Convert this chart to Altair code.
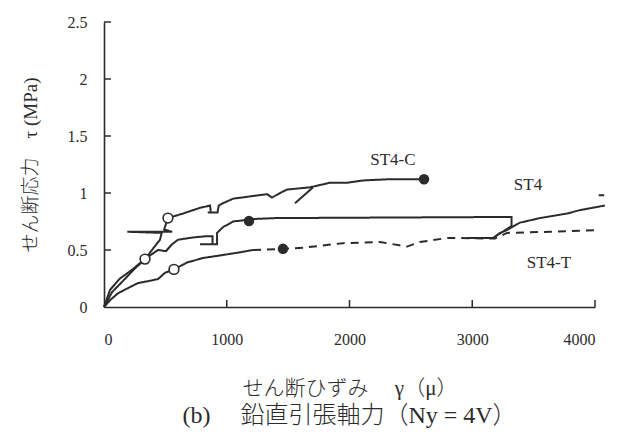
import altair as alt
import pandas as pd

# ---- data ----
# ST4-C (upper solid curve)
stc_x = [0, 49, 130, 220, 334, 391, 456, 470, 190, 555, 490, 521, 644, 782, 864, 870, 845, 925, 935, 969,
         1051, 1189, 1328, 1369, 1434, 1491, 1678, 1760, 1841, 1980, 2110, 2306, 2574, 2607]
stc_y = [0, 0.15, 0.25, 0.32, 0.42, 0.50, 0.59, 0.65, 0.66, 0.66, 0.68, 0.78, 0.82, 0.87, 0.89, 0.83, 0.83, 0.83, 0.89, 0.91,
         0.95, 0.97, 0.99, 0.96, 1.00, 1.03, 1.05, 1.07, 1.09, 1.09, 1.11, 1.12, 1.12, 1.12]
# ST4 (middle solid curve)
st4_x = [0, 65, 147, 253, 358, 440, 505, 554, 603, 725, 823, 884, 884, 782, 921, 921, 969, 1051, 1132, 1181,
         1400, 3320, 3320, 3169, 3226, 3283, 3389, 3552, 3772, 3878, 4080]
st4_y = [0, 0.13, 0.22, 0.34, 0.44, 0.50, 0.49, 0.55, 0.59, 0.61, 0.62, 0.62, 0.55, 0.55, 0.55, 0.65, 0.70, 0.75, 0.76, 0.77,
         0.78, 0.79, 0.71, 0.605, 0.65, 0.675, 0.74, 0.78, 0.82, 0.85, 0.89]
# ST4-T (lower curve, solid then dashed)
stt_solid_x = [0, 49, 114, 212, 277, 375, 440, 497, 570, 676, 807, 969, 1108, 1214]
stt_solid_y = [0, 0.06, 0.12, 0.175, 0.21, 0.23, 0.245, 0.30, 0.33, 0.39, 0.43, 0.456, 0.48, 0.50]
stt_dash_x = [1214, 1458, 1621, 1784, 1947, 2249, 2469, 2574, 2794, 2900, 3185, 3283, 3634, 4016]
stt_dash_y = [0.50, 0.51, 0.52, 0.54, 0.56, 0.57, 0.53, 0.57, 0.605, 0.605, 0.60, 0.65, 0.66, 0.675]
# small fragments
frag_x = [[1556, 1703], [4030, 4075], [2960, 3190]]
frag_y = [[0.91, 1.05], [0.98, 0.98], [0.605, 0.605]]

open_x = [521, 334, 570]
open_y = [0.78, 0.42, 0.33]
filled_x = [1181, 1458, 2607]
filled_y = [0.755, 0.51, 1.12]

label_text = ["ST4-C", "ST4", "ST4-T"]
label_x = [2354, 3454, 3625]
label_y = [1.29, 1.07, 0.385]

x_ticks = [1000, 2000, 3000, 4000]
y_ticks = [0.5, 1.0, 1.5, 2.0, 2.5]

# ---- tables ----
rows = []
def add(name, xs, ys, dash):
    for i, (a, b) in enumerate(zip(xs, ys)):
        rows.append({"seg": name, "o": i, "x": a, "y": b, "dash": dash})

add("ST4-C", stc_x, stc_y, "solid")
add("ST4", st4_x, st4_y, "solid")
add("ST4-T a", stt_solid_x, stt_solid_y, "solid")
add("ST4-T b", stt_dash_x, stt_dash_y, "dash")
for k, (fx, fy) in enumerate(zip(frag_x, frag_y)):
    add(f"frag{k}", fx, fy, "solid")
lines_df = pd.DataFrame(rows)

open_df = pd.DataFrame({"x": open_x, "y": open_y})
filled_df = pd.DataFrame({"x": filled_x, "y": filled_y})
lab_df = pd.DataFrame({"t": label_text, "x": label_x, "y": label_y})
xt_df = pd.DataFrame({"x": x_ticks})
yt_df = pd.DataFrame({"y": y_ticks})

FONT = "Liberation Serif, Noto Sans CJK JP"
INK = "#2b2b2b"
W, H = 491, 285

xs = alt.Scale(domain=[0, 4000], nice=False)
ys = alt.Scale(domain=[0, 2.5], nice=False)

x_axis = alt.Axis(values=[0, 1000, 2000, 3000, 4000], ticks=False, grid=False, labelPadding=24,
                  format="d", labelFont=FONT, titleFont=FONT, labelColor=INK, titleColor=INK,
                  domainColor=INK, domainWidth=1.6,
                  title="せん断ひずみ　 γ（μ）", titlePadding=30, titleFontSize=21,
                  titleFontWeight=300, labelFontSize=16)
y_axis = alt.Axis(values=[0, 0.5, 1, 1.5, 2, 2.5], ticks=False, grid=False, labelPadding=17,
                  labelExpr="datum.value == 0 ? '0' : format(datum.value, '~g')",
                  labelFont=FONT, titleFont=FONT, labelColor=INK, titleColor=INK,
                  domainColor=INK, domainWidth=1.6,
                  title="せん断応力　τ (MPa)", titlePadding=27, titleFontSize=19,
                  titleFontWeight=300, labelFontSize=16)

base = alt.Chart(lines_df)

lines = base.mark_line(color=INK, strokeWidth=2, clip=False).encode(
    x=alt.X("x:Q", scale=xs, axis=x_axis),
    y=alt.Y("y:Q", scale=ys, axis=y_axis),
    detail="seg:N",
    order="o:Q",
    strokeDash=alt.StrokeDash("dash:N", scale=alt.Scale(domain=["solid", "dash"], range=[[1, 0], [8, 6]]),
                              legend=None),
)

opens = alt.Chart(open_df).mark_point(shape="circle", filled=True, fill="white", stroke=INK,
                                      strokeWidth=1.6, size=95, opacity=1).encode(
    x=alt.X("x:Q", scale=xs), y=alt.Y("y:Q", scale=ys))
fills = alt.Chart(filled_df).mark_point(shape="circle", filled=True, color=INK, size=110, opacity=1).encode(
    x=alt.X("x:Q", scale=xs), y=alt.Y("y:Q", scale=ys))

labels = alt.Chart(lab_df).mark_text(font=FONT, fontSize=17, color=INK).encode(
    x=alt.X("x:Q", scale=xs), y=alt.Y("y:Q", scale=ys), text="t:N")

xticks = alt.Chart(xt_df).mark_rule(color=INK, strokeWidth=1.5).encode(
    x=alt.X("x:Q", scale=xs), y=alt.value(H), y2=alt.value(H - 7))
yticks = alt.Chart(yt_df).mark_rule(color=INK, strokeWidth=1.5).encode(
    y=alt.Y("y:Q", scale=ys), x=alt.value(0), x2=alt.value(7))

chart = alt.layer(lines, opens, fills, labels, xticks, yticks).properties(
    width=W, height=H,
    background="white",
    autosize=alt.AutoSizeParams(type="none"),
    padding={"left": 96, "top": 14, "right": 19, "bottom": 125},
    title=alt.TitleParams("(b)　 鉛直引張軸力（Ny = 4V）", orient="bottom", font=FONT, fontSize=24,
                          fontWeight=300, color=INK, offset=6),
).configure_view(stroke=None)

chart.save("out.html", embed_options={"renderer": "svg", "actions": False})
